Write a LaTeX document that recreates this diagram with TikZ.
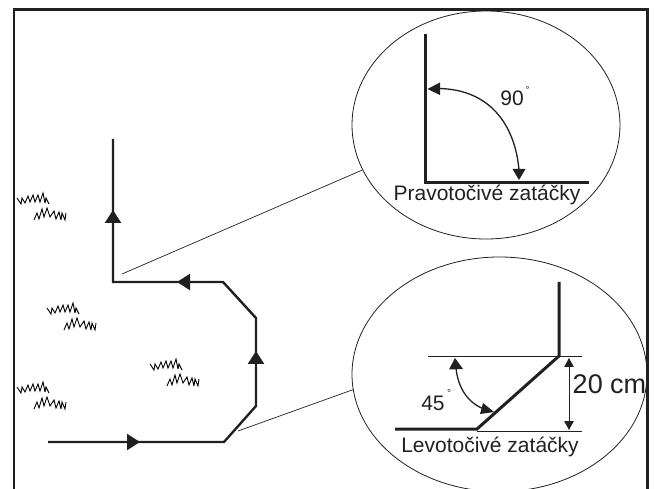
\documentclass[tikz,border=0pt]{standalone}
\usepackage{fontspec}
\setmainfont{Liberation Sans}
\usetikzlibrary{arrows.meta,shapes.geometric}
\definecolor{ink}{HTML}{231F20}
\tikzset{
  x=1pt,y=-1pt,
  road/.style={draw=ink,line width=2.4pt,line join=miter},
  heavy/.style={draw=ink,line width=3pt,line join=miter},
  thin line/.style={draw=ink,line width=0.7pt},
  lens/.style={ellipse,draw=ink,line width=0.8pt,inner sep=0pt},
  midhead/.style={-{Triangle[length=13pt,width=16pt]}},
  smallhead/.style={line width=0.9pt,draw=ink,{Triangle[length=9pt,width=9.5pt]}-{Triangle[length=9pt,width=9.5pt]}},
  lab/.style={font=\fontsize{21}{21}\selectfont,text=ink,inner sep=0pt,anchor=base},
  deg/.style={font=\fontsize{10}{10}\selectfont,text=ink,inner sep=0pt},
  blades/.style={draw=black,line width=0.9pt,line join=miter,miter limit=4},
  grass/.pic={
    \draw[blades] (0,6)--(4,12)--(5,6)--(8,11)--(11,4)--(13,10)--(16,3)--(18,10)--(21,3)--(23,10)--(26,1)--(28,11)--(29,6)--(32,12);
    \draw[blades] (17,28)--(20,21)--(22,27)--(25,17)--(27,25)--(30,16)--(33,25)--(37,19)--(39,27)--(42,20)--(44,28)--(45,21)--(48,28)--(49,21);
  }
}
\begin{document}
\begin{tikzpicture}
\useasboundingbox (0,0) rectangle (654,489);
\clip (0,0) rectangle (654,489);
% frame
\draw[heavy,draw=ink,line width=2.6pt] (14,489) -- (14,9.5) -- (647.5,9.5) -- (647.5,489);
% grass
\pic at (17,192) {grass};
\pic at (47,302) {grass};
\pic at (150,358) {grass};
\pic at (17,381) {grass};
% route
\coordinate (r0) at (48,442);
\coordinate (r1) at (140,442);
\coordinate (r2) at (224,442);
\coordinate (r3) at (256,406);
\coordinate (r4) at (256,351);
\coordinate (r5) at (256,318);
\coordinate (r6) at (223,282);
\coordinate (r7) at (177,282);
\coordinate (r8) at (113,282);
\coordinate (r9) at (113,210);
\coordinate (r10) at (113,139);
\draw[road] (r0) -- (r2) -- (r3) -- (r5) -- (r6) -- (r8) -- (r10);
\draw[road,midhead] (r0) -- (r1);
\draw[road,midhead] (r3) -- (r4);
\draw[road,midhead] (r6) -- (r7);
\draw[road,midhead] (r8) -- (r9);
% lenses
\node[lens,minimum width=268pt,minimum height=228pt] (upper) at (486,125) {};
\node[lens,minimum width=295pt,minimum height=234.6pt] (lower) at (499.5,374.3) {};
% leaders
\coordinate (l1) at (122,274);
\coordinate (l2) at (238,431);
\draw[thin line] (l1) -- (upper.200);
\draw[thin line] (l2) -- (lower.186);
% upper inset
\coordinate (u1) at (425,34);
\coordinate (u2) at (425,182.5);
\coordinate (u3) at (589,182.5);
\draw[heavy] (u1) -- (u2) -- (u3);
\draw[line width=1.3pt,draw=ink] (519,170) .. controls (515,125) and (490,89) .. (438,88.5);
\fill[ink] (427.5,89) -- (440,82.5) -- (440,95) -- cycle;
\fill[ink] (519,180) -- (512.5,169) -- (525.5,169) -- cycle;
\node[lab] (t90) at (512,106) {90};
\node[deg] (d90) at (527.5,90) {°};
\node[lab] (tp) at (487,201) {Pravotočivé zatáčky};
% lower inset
\coordinate (v1) at (559,282);
\coordinate (v2) at (559,356);
\coordinate (v3) at (477,429);
\coordinate (v4) at (395,429);
\draw[heavy] (v1) -- (v2) -- (v3) -- (v4);
\coordinate (h1) at (428,356);
\coordinate (h2) at (582,356);
\coordinate (h3) at (477,431);
\coordinate (h4) at (582,431);
\draw[thin line] (h1) -- (h2);
\draw[thin line] (h3) -- (h4);
\coordinate (dm1) at (569,358);
\coordinate (dm2) at (569,430);
\draw[smallhead] (dm1) -- (dm2);
\draw[line width=1.3pt,draw=ink] (456,368) .. controls (458,388) and (468,403) .. (484,409);
\fill[ink] (455,358) -- (449,369.5) -- (463,369) -- cycle;
\fill[ink] (494,412) -- (483,403) -- (480,414) -- cycle;
\node[lab] (t45) at (433,410) {45};
\node[deg] (d45) at (449,393) {°};
\node[lab,font=\fontsize{27}{27}\selectfont] (t20) at (609.5,394) {20 cm};
\node[lab] (tl) at (490,452) {Levotočivé zatáčky};
\end{tikzpicture}
\end{document}
